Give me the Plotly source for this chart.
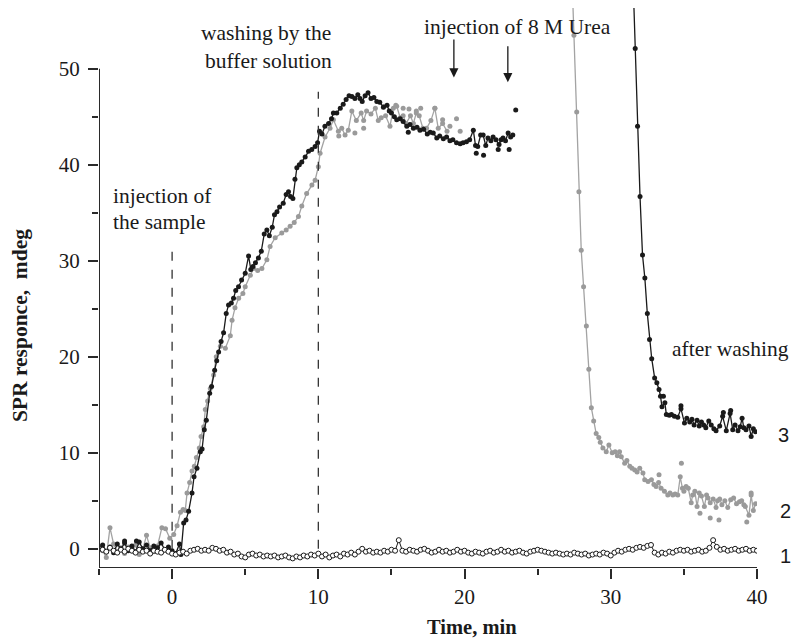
import plotly.graph_objects as go

# ---------------- data ----------------
# curve 1 (open circles), sampled every 0.25 min from -5 to 40
c1_start, c1_step = -5.0, 0.25
c1_values = [
    0.0, -0.1, -0.3, 0.1, -0.2, -0.4, -0.1, -0.3, 0.0, -0.2,
    -0.4, -0.1, -0.3, -0.2, -0.5, -0.2, -0.3, -0.4, -0.1, -0.3,
    -0.5, -0.6, -0.4, -0.3, -0.5, -0.2, -0.1, 0.0, -0.2, -0.1,
    -0.2, 0.1, 0.0, -0.2, -0.1, -0.4, -0.3, -0.6, -0.5, -0.8,
    -0.9, -0.6, -0.5, -0.7, -0.6, -0.8, -0.7, -0.8, -0.7, -0.9,
    -0.8, -0.7, -0.9, -1.0, -0.8, -0.9, -0.7, -0.8, -0.6, -0.7,
    -0.5, -0.8, -0.6, -0.9, -0.7, -0.6, -0.8, -0.5, -0.6, -0.4,
    -0.6, -0.3, 0.0, -0.3, -0.2, -0.4, -0.3, -0.4, -0.2, -0.3,
    -0.1, -0.2, 0.9, -0.2, -0.3, -0.1, -0.2, -0.3, -0.1, 0.0,
    -0.2, -0.4, -0.3, -0.1, -0.3, -0.2, -0.4, -0.3, -0.1, -0.3,
    -0.2, -0.4, -0.5, -0.3, -0.4, -0.5, -0.3, -0.2, -0.4, -0.3,
    -0.1, -0.3, -0.2, -0.4, -0.3, -0.2, -0.4, -0.5, -0.3, -0.2,
    -0.1, -0.2, -0.3, -0.4, -0.5, -0.4, -0.5, -0.6, -0.5, -0.6,
    -0.4, -0.5, -0.6, -0.5, -0.7, -0.6, -0.5, -0.6, -0.4, -0.5,
    -0.7, -0.4, -0.2, -0.3, -0.1, 0.0, -0.1, 0.1, 0.2, 0.1,
    0.3, 0.4, -0.4, -0.6, -0.4, -0.5, -0.3, -0.4, -0.2, -0.1,
    -0.2, -0.1, -0.3, -0.2, -0.1, -0.3, -0.2, 0.1, 0.9, 0.2,
    -0.1, 0.0, -0.2, -0.1, 0.0, -0.2, -0.1, 0.0, -0.2, -0.1,
    -0.2,
]
c1_time = [c1_start + c1_step * i for i in range(len(c1_values))]

# curve 2 (grey), binding part
c2a_time = [-5.0, -4.75, -4.5, -4.25, -4.0, -3.75, -3.5, -3.25, -3.0, -2.75,
            -2.5, -2.25, -2.0, -1.75, -1.5, -1.25, -1.0, -0.7, -0.45, -0.16,
            0.11, 0.34, 0.57, 0.75, 0.9, 1.02, 1.2, 1.36, 1.52, 1.66,
            1.86, 1.98, 2.16, 2.27, 2.43, 2.61, 2.84, 3.02, 3.3, 3.64,
            3.98, 4.1, 4.3, 4.55, 4.84, 5.0, 5.35, 5.57, 5.85, 6.14,
            6.48, 6.7, 7.05, 7.5, 7.8, 8.07, 8.35, 8.64, 8.87, 9.2,
            9.56, 9.78, 10.0, 10.12, 10.46, 10.8, 11.03, 11.37, 11.6, 11.83,
            12.05, 12.29, 12.6, 12.93, 13.1, 13.3, 13.6, 13.9, 14.1, 14.3,
            14.6, 14.9, 15.13, 15.36, 15.6, 15.8, 16.0, 16.3, 16.5, 16.7,
            16.9, 17.15, 17.4, 17.7, 17.97, 18.2, 18.5, 18.8]
c2a_values = [0.3, -0.2, -0.9, 2.2, 0.5, -0.3, 0.1, -0.5, 0.2, -0.2,
              0.4, -0.6, 0.0, 1.4, 0.1, -0.3, 0.3, 2.2, 2.1, 1.1,
              1.5, 2.4, 3.8, 4.1, 4.0, 5.8, 6.9, 8.1, 8.6, 9.5,
              10.5, 11.7, 12.7, 14.5, 15.4, 16.7, 18.1, 20.0, 21.1, 20.9,
              22.2, 23.8, 25.1, 26.1, 26.6, 27.3, 28.5, 29.2, 29.0, 29.2,
              30.1, 31.5, 32.4, 32.9, 33.2, 33.6, 34.0, 34.6, 35.7, 37.0,
              37.9, 38.4, 39.8, 41.2, 42.9, 43.8, 44.7, 43.5, 43.8, 43.1,
              43.6, 45.6, 44.6, 45.4, 44.6, 45.6, 45.3, 45.9, 44.6, 44.9,
              45.1, 44.0, 45.9, 46.1, 44.9, 45.1, 44.3, 45.1, 44.3, 45.4,
              45.1, 43.8, 43.8, 44.6, 45.9, 43.8, 44.3, 43.5]

# curve 2 (grey), after urea
c2b_time = [27.38, 27.48, 27.67, 27.82, 27.98, 28.14, 28.33, 28.5, 28.67, 28.83,
            29.0, 29.18, 29.28, 29.46, 29.69, 29.87, 30.1, 30.3, 30.45, 30.6,
            30.72, 30.95, 31.1, 31.3, 31.45, 31.64, 31.8, 31.98, 32.2, 32.32,
            32.55, 32.78, 32.95, 33.1, 33.27, 33.44, 33.67, 33.9, 34.05, 34.24,
            34.4, 34.58, 34.75, 34.9, 35.0, 35.15, 35.3, 35.5, 35.6, 35.75,
            35.9, 36.05, 36.2, 36.4, 36.55, 36.65, 36.8, 37.0, 37.2, 37.3,
            37.45, 37.6, 37.8, 38.0, 38.2, 38.4, 38.6, 38.8, 38.95, 39.1,
            39.2, 39.45, 39.6, 39.75, 39.9]
c2b_values = [58.0, 53.5, 45.5, 37.2, 31.1, 27.3, 23.2, 18.7, 14.7, 13.3,
              12.0, 11.6, 11.1, 10.5, 10.1, 10.8, 10.0, 10.1, 9.7, 10.1,
              9.6, 8.9, 9.2, 8.6, 8.4, 8.2, 8.0, 8.4, 7.9, 7.2,
              7.0, 7.2, 6.7, 6.5, 6.9, 6.3, 6.0, 5.6, 5.8, 5.6,
              5.7, 5.6, 7.5, 6.3, 6.0, 6.5, 6.3, 4.8, 5.6, 6.0,
              4.4, 5.8, 5.5, 4.4, 5.6, 5.3, 4.8, 5.2, 4.3, 5.0,
              5.2, 4.6, 5.0, 4.3, 5.1, 5.3, 4.7, 4.9, 5.0, 4.6,
              4.4, 3.5, 5.6, 4.0, 4.7]

# curve 2 (grey), scattered readings
c2s_time = [11.4, 12.5, 13.1, 14.5, 15.3, 15.8, 16.2, 16.7, 17.0, 17.97,
            18.5, 19.0, 19.45, 19.7, 33.3, 34.83, 36.1, 36.8, 37.4, 39.3, 39.6]
c2s_values = [43.0, 43.3, 43.8, 46.1, 46.2, 45.9, 45.8, 45.6, 45.9, 45.9,
              44.7, 44.0, 44.8, 43.5, 7.7, 8.9, 3.7, 3.2, 3.0, 2.8, 5.8]

# curve 3 (black), binding part
c3a_time = [-5.0, -4.75, -4.5, -4.25, -4.0, -3.75, -3.5, -3.25, -3.0, -2.75,
            -2.5, -2.25, -2.0, -1.75, -1.5, -1.25, -1.0, -0.75, -0.5, -0.25,
            0.0, 0.25, 0.5, 0.6, 0.79, 0.95, 1.13, 1.36, 1.5, 1.7,
            1.93, 2.05, 2.2, 2.34, 2.57, 2.7, 2.91, 3.05, 3.18, 3.35,
            3.52, 3.7, 3.86, 4.05, 4.2, 4.35, 4.54, 4.75, 5.0, 5.23,
            5.38, 5.53, 5.7, 5.9, 6.1, 6.3, 6.48, 6.65, 6.85, 7.0,
            7.17, 7.35, 7.6, 7.8, 7.96, 8.1, 8.26, 8.4, 8.53, 8.7,
            8.87, 9.1, 9.33, 9.55, 9.78, 9.95, 10.08, 10.25, 10.45, 10.7,
            10.9, 11.03, 11.26, 11.5, 11.7, 11.9, 12.1, 12.3, 12.5, 12.7,
            12.85, 13.0, 13.2, 13.4, 13.6, 13.8, 14.0, 14.2, 14.45, 14.7,
            14.85, 15.0, 15.2, 15.36, 15.6, 15.8, 16.05, 16.27, 16.5, 16.75,
            16.95, 17.2, 17.45, 17.65, 17.86, 18.1, 18.3, 18.55, 18.77, 19.0,
            19.2, 19.45, 19.7, 19.9, 20.13, 20.35, 20.6, 20.75, 20.9, 21.1,
            21.27, 21.45, 21.6, 21.8, 21.95, 22.15, 22.36, 22.5, 22.63, 22.8,
            22.98, 23.15, 23.3]
c3a_values = [0.1, 0.4, -0.3, 0.2, -0.4, 0.5, 0.0, 0.6, -0.2, 0.3,
              -0.3, 0.7, 0.0, 0.4, -0.2, 0.3, 0.1, 0.6, -0.1, 0.2,
              -0.2, -0.5, 0.5, -0.6, 2.7, 3.0, 3.9, 5.8, 7.5, 8.4,
              10.1, 10.4, 12.4, 13.4, 16.2, 16.9, 18.6, 19.6, 20.5, 21.6,
              22.5, 24.5, 25.4, 25.6, 26.1, 26.9, 27.3, 28.0, 28.7, 30.5,
              29.1, 29.4, 29.8, 30.3, 31.0, 32.8, 33.2, 32.6, 33.5, 34.8,
              35.1, 35.6, 36.0, 36.9, 37.2, 36.7, 36.5, 38.5, 39.7, 40.0,
              40.3, 40.8, 41.4, 41.6, 41.9, 42.3, 43.5, 43.2, 44.0, 44.3,
              44.8, 45.4, 45.4, 45.9, 46.3, 46.8, 47.2, 47.1, 46.9, 47.3,
              46.9, 46.6, 47.2, 47.5, 46.9, 47.0, 46.6, 46.5, 46.0, 46.2,
              45.6, 45.4, 45.0, 44.7, 44.8, 44.5, 44.0, 44.2, 43.8, 43.9,
              43.6, 43.7, 43.2, 43.4, 43.3, 42.8, 43.0, 42.7, 42.9, 42.5,
              42.6, 42.3, 42.2, 42.3, 42.4, 42.6, 43.6, 42.0, 41.9, 43.1,
              43.1, 42.0, 42.8, 42.5, 42.9, 42.6, 42.1, 42.6, 42.8, 42.5,
              43.3, 42.9, 43.1]

# curve 3 (black), after urea
c3b_time = [31.55, 31.67, 31.83, 32.0, 32.17, 32.33, 32.5, 32.65, 32.8, 33.0,
            33.15, 33.3, 33.4, 33.5, 33.7, 33.8, 34.0, 34.15, 34.35, 34.58,
            34.8, 35.04, 35.2, 35.4, 35.55, 35.7, 35.9, 36.05, 36.2, 36.35,
            36.5, 36.7, 36.87, 37.05, 37.2, 37.45, 37.65, 37.9, 38.16, 38.34,
            38.5, 38.7, 38.85, 38.98, 39.1, 39.25, 39.45, 39.6, 39.75, 39.9]
c3b_values = [58.0, 52.1, 44.0, 36.7, 30.6, 28.2, 24.5, 21.8, 19.8, 17.8,
              17.3, 16.6, 15.9, 14.8, 15.2, 14.0, 13.9, 14.0, 13.8, 13.7,
              14.6, 13.1, 13.6, 13.2, 13.5, 12.9, 13.4, 12.8, 13.2, 12.9,
              12.6, 13.3, 12.9, 12.5, 12.3, 12.8, 13.8, 12.3, 14.1, 12.4,
              12.9, 12.3, 12.7, 13.6, 12.6, 12.4, 12.8, 11.7, 12.5, 12.2]

# curve 3 (black), scattered readings
c3s_time = [-3.25, -2.44, 16.15, 20.8, 21.3, 22.3, 23.05, 23.5, 33.6, 34.8, 37.7, 38.2]
c3s_values = [0.8, 0.8, 43.4, 41.2, 41.0, 41.6, 41.6, 45.7, 15.9, 14.9, 14.2, 14.4]

# event markers
sample_injection_t, sample_line_top = 0, 31.7
washing_t, washing_line_top = 10, 47.6
urea_arrows_t = [19.27, 22.96]
urea_arrow_tips = [49.1, 48.6]
urea_arrow_tails = [53.2, 52.5]

x_major = [0, 10, 20, 30, 40]
x_minor = [-5, 5, 15, 25, 35]
y_major = [0, 10, 20, 30, 40, 50]
y_minor = [5, 15, 25, 35, 45]
x_range = [-5, 40]
y_range = [-2, 56.33]

# ---------------- figure ----------------
GREY_LINE = "#a3a3a3"
GREY_DOT = "#9a9a9a"
BLACK = "#1a1a1a"
AX = "#2a2a2a"
SERIF = "Liberation Serif"
SANS = "Liberation Sans"

fig = go.Figure()

fig.add_trace(go.Scatter(x=c2s_time, y=c2s_values, mode="markers",
                         marker=dict(color=GREY_DOT, size=5), showlegend=False))
fig.add_trace(go.Scatter(x=c2a_time, y=c2a_values, mode="lines+markers",
                         line=dict(color=GREY_LINE, width=1.3),
                         marker=dict(color=GREY_DOT, size=5), showlegend=False))
fig.add_trace(go.Scatter(x=c2b_time, y=c2b_values, mode="lines+markers",
                         line=dict(color=GREY_LINE, width=1.3),
                         marker=dict(color=GREY_DOT, size=5), showlegend=False))
fig.add_trace(go.Scatter(x=c3s_time, y=c3s_values, mode="markers",
                         marker=dict(color=BLACK, size=5), showlegend=False))
fig.add_trace(go.Scatter(x=c3a_time, y=c3a_values, mode="lines+markers",
                         line=dict(color=BLACK, width=1.3),
                         marker=dict(color=BLACK, size=5), showlegend=False))
fig.add_trace(go.Scatter(x=c3b_time, y=c3b_values, mode="lines+markers",
                         line=dict(color=BLACK, width=1.3),
                         marker=dict(color=BLACK, size=5), showlegend=False))
fig.add_trace(go.Scatter(x=c1_time, y=c1_values, mode="lines+markers",
                         line=dict(color=BLACK, width=1),
                         marker=dict(color="white", size=5, symbol="circle",
                                     line=dict(color=BLACK, width=1)),
                         showlegend=False))

# dashed event lines
for xv, top in [(sample_injection_t, sample_line_top), (washing_t, washing_line_top)]:
    fig.add_shape(type="line", xref="x", yref="y", x0=xv, x1=xv, y0=0, y1=top,
                  line=dict(color="#333333", width=1.3, dash="dash"))

# axis lines (left stops at 50)
fig.add_shape(type="line", xref="x", yref="y", x0=x_range[0], x1=x_range[0],
              y0=y_range[0], y1=y_major[-1], line=dict(color=AX, width=2))
fig.add_shape(type="line", xref="x", yref="y", x0=x_range[0], x1=x_range[1],
              y0=y_range[0], y1=y_range[0], line=dict(color=AX, width=2))

# arrows for urea injection
for xa, tip, tail in zip(urea_arrows_t, urea_arrow_tips, urea_arrow_tails):
    fig.add_annotation(x=xa, y=tip, ax=xa, ay=tail, xref="x", yref="y",
                       axref="x", ayref="y", text="", showarrow=True,
                       arrowhead=2, arrowsize=1.4, arrowwidth=1.3,
                       arrowcolor=BLACK)

txt = dict(family=SERIF, size=21.5, color=BLACK)
def label(text, x, y, xanchor="center", font=txt, xref="x"):
    fig.add_annotation(x=x, y=y, xref=xref, yref="y", text=text, showarrow=False,
                       xanchor=xanchor, yanchor="middle", font=font)

label("injection of", -4.18, 36.8, "left")
label("the sample", -4.18, 34.06, "left")
label("washing by the", 6.39, 53.75)
label("buffer solution", 6.6, 50.83)
label("injection of 8 M Urea", 23.59, 54.4)
label("after washing", 1.052, 20.8, "right", xref="paper")
num = dict(family=SANS, size=20, color=BLACK)
label("3", 1.041, 11.9, font=num, xref="paper")
label("2", 1.044, 3.96, font=num, xref="paper")
label("1", 1.044, -0.73, font=num, xref="paper")

# axis titles
fig.add_annotation(x=-0.12, y=23.2, xref="paper", yref="y",
                   xanchor="center", yanchor="middle",
                   text="<b>SPR responce,  mdeg</b>", textangle=-90,
                   showarrow=False, font=dict(family=SERIF, size=21.5, color=BLACK))
fig.add_annotation(x=20.5, y=-0.105, xref="x", yref="paper",
                   xanchor="center", yanchor="middle",
                   text="<b>Time, min</b>", showarrow=False,
                   font=dict(family=SERIF, size=20.5, color=BLACK))

axis_common = dict(showgrid=False, zeroline=False, showline=False,
                   ticks="outside", tickcolor=AX, tickwidth=1.5, ticklen=10,
                   tickfont=dict(family=SERIF, size=21, color=BLACK),
                   tickmode="array")
fig.update_xaxes(range=x_range, tickvals=x_major, ticktext=[str(v) for v in x_major],
                 minor=dict(tickvals=x_minor, ticks="outside", ticklen=6,
                            tickcolor=AX, tickwidth=1.5),
                 **axis_common)
fig.update_yaxes(range=y_range, tickvals=y_major, ticktext=[str(v) for v in y_major],
                 ticklabelstandoff=4,
                 minor=dict(tickvals=y_minor, ticks="outside", ticklen=6,
                            tickcolor=AX, tickwidth=1.5),
                 **axis_common)

fig.update_layout(width=801, height=641, plot_bgcolor="white", paper_bgcolor="white",
                  margin=dict(l=99, r=44, t=8, b=73), showlegend=False)

fig.write_html("out.html", config={"displayModeBar": False},
               post_script="document.body.style.margin='0';")
